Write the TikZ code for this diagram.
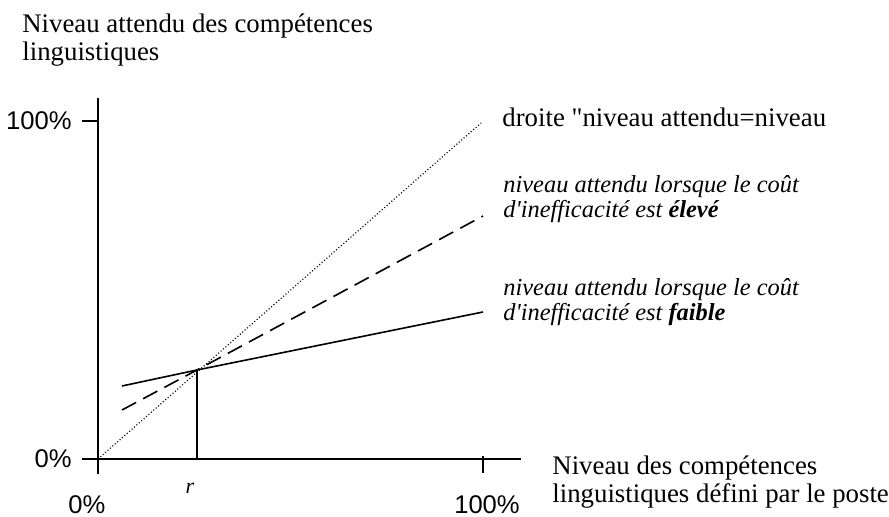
\documentclass[tikz,border=0pt]{standalone}
\usepackage{fontspec}
\setmainfont{Liberation Serif}[Ligatures=TeXOff]
\setsansfont{Liberation Sans}
\usetikzlibrary{positioning}
\tikzstyle{lbl} = [
        inner sep=0pt, anchor=base west, align=left,
        font=\fontsize{13.4}{14}\selectfont
    ]
\tikzstyle{ital} = [lbl, font=\fontsize{12.2}{12.5}\selectfont\itshape]
\tikzstyle{pct} = [inner sep=0pt, font=\sffamily\fontsize{12.8}{14}\selectfont]
\tikzstyle{axis} = [draw, line width=0.9pt]
\tikzstyle{curve} = [draw, line width=0.8pt]

\begin{document}
\begin{tikzpicture}[x=0.5pt, y=-0.5pt]
    \useasboundingbox (0,0) rectangle (889,517);
    \coordinate (O) at (98,459);
    \coordinate (ytop) at (98,98);
    \coordinate (ybot) at (98,474);
    \coordinate (xend) at (521,459);
    \coordinate (P) at (197,370);
    \coordinate (Px) at (197,459);

    % axes et graduations
    \path [axis] (ytop) -- (ybot);
    \path [axis] (O) -- (xend);
    \path [axis] (82,121) coordinate (t100) -- (98,121) coordinate (y100);
    \path [axis] (82,459) coordinate (t0) -- (O);
    \path [axis] (483,456) coordinate (x100) -- (483,473) coordinate (b100);
    \path [axis] (P) -- (Px);

    % droites
    \path [draw, line width=0.6pt, dash pattern=on 0.5pt off 1.1pt] (O) -- (481,123) coordinate (d1);
    \path [curve, dash pattern=on 8pt off 4pt] (122,410) coordinate (e0) -- (P) -- (483,216) coordinate (e1);
    \path [curve] (122,386) coordinate (f0) -- (P) -- (483,312) coordinate (f1);

    % textes (ancre = ligne de base de la derniere ligne)
    \node [lbl] (ylab) at (22,61) {Niveau attendu des compétences\\linguistiques};
    \node [lbl] (xlab) at (552,503) {Niveau des compétences\\linguistiques défini par le poste};
    \node [lbl] (diag) at (502,127) {droite "niveau attendu=niveau};
    \node [ital] (high) at (503,218) {niveau attendu lorsque le coût\\d'inefficacité est \textbf{élevé}};
    \node [ital] (low) at (503,321) {niveau attendu lorsque le coût\\d'inefficacité est \textbf{faible}};

    \node [pct, left=5pt of t100] (y100l) {100\%};
    \node [pct, left=5pt of t0] (y0l) {0\%};
    \node [pct, anchor=base] (x0l) at (87,514) {0\%};
    \node [pct, anchor=base] (x100l) at (487,514) {100\%};
    \node [inner sep=0pt, anchor=base, font=\fontsize{11}{12}\selectfont\itshape] (r) at (190,494) {r};
\end{tikzpicture}
\end{document}
